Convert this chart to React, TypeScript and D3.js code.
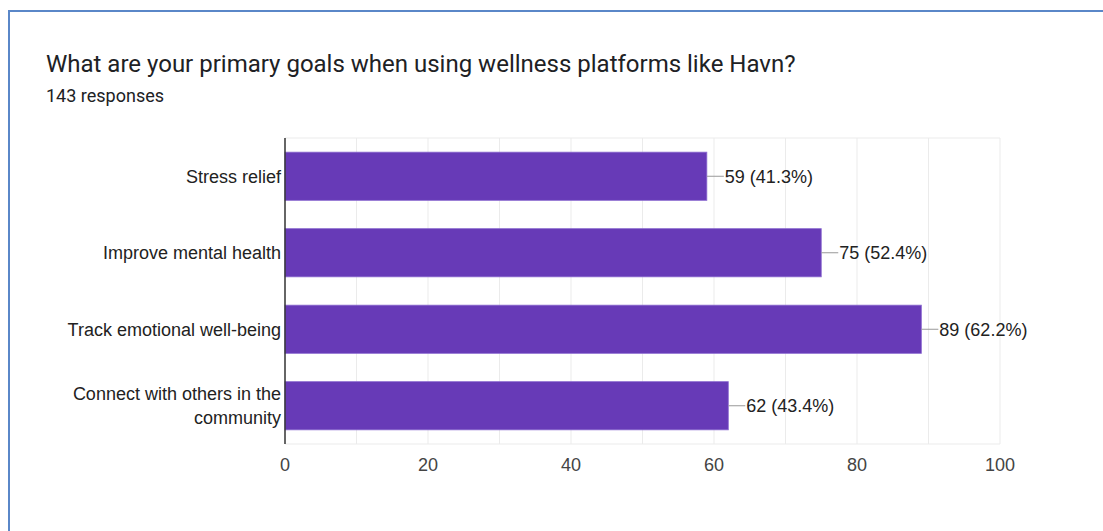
import React from "react";
import * as d3 from "d3";

const categories: string[][] = [
  ["Stress relief"],
  ["Improve mental health"],
  ["Track emotional well-being"],
  ["Connect with others in the", "community"],
];
const counts: number[] = [59, 75, 89, 62];
const percents: string[] = ["41.3%", "52.4%", "62.2%", "43.4%"];
const xTicks: number[] = [0, 20, 40, 60, 80, 100];
const minorTicks: number[] = [10, 30, 50, 70, 90];
const title = "What are your primary goals when using wellness platforms like Havn?";
const subtitle = "143 responses";

const W = 1103;
const H = 531;
const left = 285;
const right = 1000;
const top = 138;
const bottom = 444;

export default function App() {
  const x = d3.scaleLinear().domain([0, 100]).range([left, right]);
  const y = d3
    .scaleBand<number>()
    .domain(d3.range(categories.length))
    .range([top, bottom])
    .paddingInner(0.37)
    .paddingOuter(0.185);
  const labelFont = "'Liberation Sans', Arial, sans-serif";
  return (
    <svg
      width={W}
      height={H}
      style={{ position: "absolute", left: 0, top: 0, background: "#fff" }}
    >
      <rect x={9} y={11} width={1200} height={600} fill="#fff" stroke="#5a87c8" strokeWidth={2} />
      <text x={46} y={72} fontFamily="Roboto, sans-serif" fontSize={24} fill="#202124">
        {title}
      </text>
      <text x={46} y={102} fontFamily="Roboto, sans-serif" fontSize={18} fill="#202124">
        {subtitle}
      </text>
      {/* grid */}
      {[...minorTicks, ...xTicks.slice(1)].map((t) => (
        <line key={"g" + t} x1={x(t)} x2={x(t)} y1={top} y2={bottom} stroke="#ebebeb" strokeWidth={1} />
      ))}
      <line x1={left} x2={right} y1={top} y2={top} stroke="#ebebeb" />
      <line x1={left} x2={right} y1={bottom} y2={bottom} stroke="#ebebeb" />
      {/* bars */}
      {counts.map((v, i) => {
        const by = y(i)!;
        const bh = y.bandwidth();
        const cy = by + bh / 2;
        return (
          <g key={i}>
            <rect x={x(0)} y={by} width={x(v) - x(0)} height={bh} fill="#673ab7" stroke="#8c6cd0" strokeWidth={0.8} />
            <line x1={x(v)} x2={x(v) + 17} y1={cy} y2={cy} stroke="#999" strokeWidth={1} />
            <text x={x(v) + 18} y={cy} dy="0.35em" fontFamily={labelFont} fontSize={18} fill="#222">
              {`${v} (${percents[i]})`}
            </text>
            {categories[i].map((line, k) => (
              <text
                key={k}
                x={left - 4}
                y={cy + (k - (categories[i].length - 1) / 2) * 24}
                dy="0.35em"
                textAnchor="end"
                fontFamily={labelFont}
                fontSize={18}
                fill="#222"
              >
                {line}
              </text>
            ))}
          </g>
        );
      })}
      <line x1={left} x2={left} y1={top} y2={bottom} stroke="#333" strokeWidth={1.5} />
      {xTicks.map((t) => (
        <text
          key={"t" + t}
          x={x(t)}
          y={465}
          dy="0.35em"
          textAnchor="middle"
          fontFamily={labelFont}
          fontSize={18}
          fill="#444"
        >
          {t}
        </text>
      ))}
    </svg>
  );
}
